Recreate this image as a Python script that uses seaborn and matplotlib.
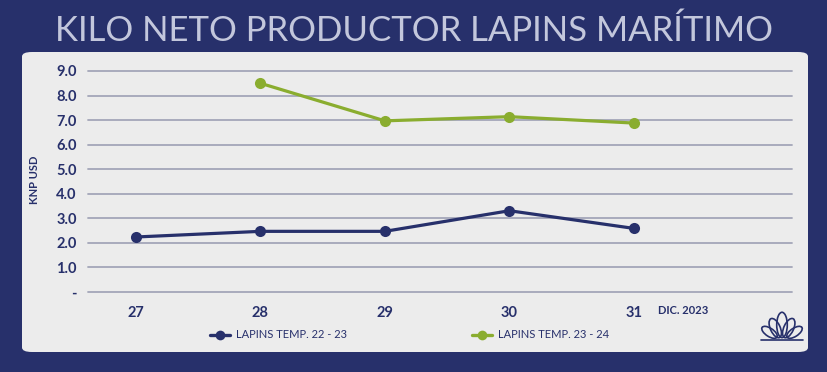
import numpy as np
import pandas as pd
import seaborn as sns
import matplotlib.pyplot as plt
from matplotlib.patches import FancyBboxPatch, Ellipse

# data
semanas = ['27', '28', '29', '30', '31']
temp_22_23 = [2.24, 2.47, 2.47, 3.31, 2.59]
temp_23_24 = [np.nan, 8.5, 6.97, 7.14, 6.88]
serie_1 = 'LAPINS TEMP. 22 - 23'
serie_2 = 'LAPINS TEMP. 23 - 24'
y_ticks = [0, 1, 2, 3, 4, 5, 6, 7, 8, 9]
y_labels = ['-', '1.0', '2.0', '3.0', '4.0', '5.0', '6.0', '7.0', '8.0', '9.0']

navy = '#27306b'
green = '#8aad2f'
panel = '#ececec'
grid_c = '#a3a6b8'

sns.set_theme(style='white')
plt.rcParams['font.family'] = ['Lato', 'DejaVu Sans']

df = pd.DataFrame({
    'pos': list(range(len(semanas))) * 2,
    'val': temp_22_23 + temp_23_24,
    'serie': [serie_1] * len(semanas) + [serie_2] * len(semanas),
}).dropna()

fig = plt.figure(figsize=(8.28, 3.72), dpi=100)
fig.patch.set_facecolor(navy)

# light rounded panel
fig.patches.append(FancyBboxPatch((22 / 828, 1 - 352 / 372), 786 / 828, 300 / 372,
                                  boxstyle='round,pad=0,rounding_size=0.012',
                                  transform=fig.transFigure, facecolor=panel,
                                  edgecolor='none', zorder=-5))

fig.text(0.5, 1 - 31 / 372, 'KILO NETO PRODUCTOR LAPINS MARÍTIMO', ha='center',
         va='center', fontsize=25, color='#c3c7dc', fontweight='normal')

ax = fig.add_axes([88 / 828, 1 - 292 / 372, 704 / 828, 221 / 372])
ax.set_zorder(2)
ax.set_facecolor('none')
for y in y_ticks:
    ax.axhline(y, color=grid_c, lw=1.3, zorder=1, clip_on=False)

sns.lineplot(data=df, x='pos', y='val', hue='serie', palette=[navy, green],
             marker='o', markersize=8, markeredgewidth=0, linewidth=2.3,
             ax=ax, legend=False, zorder=3, clip_on=False)

ax.set_xlim(-0.385, 5.27)
ax.set_ylim(0, 9)
ax.set_xticks(range(len(semanas)))
ax.set_xticklabels(semanas)
ax.set_yticks(y_ticks)
ax.set_yticklabels(y_labels)
ax.tick_params(axis='both', length=0, labelsize=10.5, labelcolor=navy)
ax.tick_params(axis='y', pad=8)
ax.tick_params(axis='x', pad=10)
for lab in ax.get_xticklabels() + ax.get_yticklabels():
    lab.set_fontweight('bold')
for s in ax.spines.values():
    s.set_visible(False)
ax.set_xlabel('')
ax.set_ylabel('')

fig.text(35 / 828, 1 - 180 / 372, 'KNP USD', rotation=90, ha='center', va='center',
         fontsize=8, fontweight='bold', color=navy)
fig.text(658 / 828, 1 - 311 / 372, 'DIC. 2023', ha='left', va='center',
         fontsize=8, fontweight='bold', color=navy)

# legend
for x0, col, name in [(210, navy, serie_1), (472, green, serie_2)]:
    fig.lines.append(plt.Line2D([x0 / 828, (x0 + 20) / 828], [1 - 335 / 372] * 2,
                                transform=fig.transFigure, color=col, lw=2.4))
    fig.lines.append(plt.Line2D([(x0 + 10) / 828], [1 - 335 / 372],
                                transform=fig.transFigure, color=col, marker='o',
                                markersize=7, markeredgewidth=0))
    fig.text((x0 + 26) / 828, 1 - 335 / 372, name, ha='left', va='center',
             fontsize=8, color=navy)

# small lotus logo
lax = fig.add_axes([757 / 828, 1 - 345 / 372, 50 / 828, 38 / 372])
lax.set_zorder(2)
lax.set_xlim(-1.3, 1.3)
lax.set_ylim(-0.2, 1.6)
lax.axis('off')
for ang, cx, cy, w, h in [(0, 0, 0.75, 0.55, 1.2), (28, -0.35, 0.6, 0.5, 1.0),
                          (-28, 0.35, 0.6, 0.5, 1.0), (60, -0.65, 0.4, 0.4, 0.9),
                          (-60, 0.65, 0.4, 0.4, 0.9)]:
    lax.add_patch(Ellipse((cx, cy), w, h, angle=ang, fill=False, ec=navy, lw=1.2))
lax.plot([-1.1, 1.1], [0.05, 0.05], color=navy, lw=1.2)

fig.savefig('out.png', dpi=100, facecolor=fig.get_facecolor())
